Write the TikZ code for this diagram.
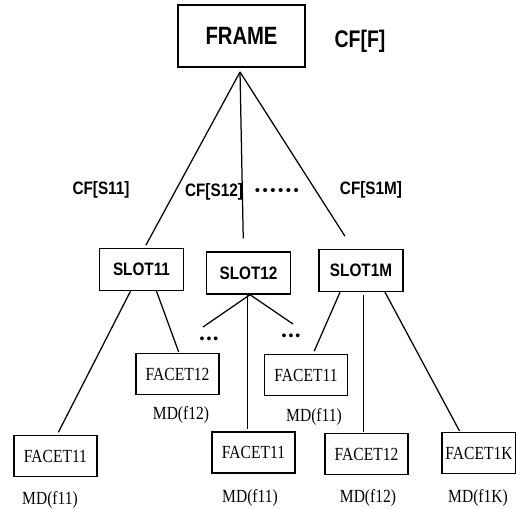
\documentclass[tikz,border=0pt]{standalone}
\usepackage{fontspec}
\setmainfont[FakeStretch=0.84]{Liberation Serif}
\newfontfamily\narrowsans[FakeStretch=0.85]{Liberation Sans}
\newfontfamily\framesans[FakeStretch=0.81]{Liberation Sans}
\newfontfamily\dotfont{Liberation Sans}
\usetikzlibrary{calc}
\tikzset{
  framebox/.style={draw, line width=1.6pt, inner sep=0pt, minimum width=127pt, minimum height=62pt,
    font=\framesans\bfseries\fontsize{25}{27}\selectfont},
  slotbox/.style={draw, line width=1.4pt, inner sep=0pt, minimum width=84pt, minimum height=42pt,
    font=\narrowsans\bfseries\fontsize{18}{20}\selectfont},
  facetbox/.style={draw, line width=1.2pt, inner sep=0pt, minimum width=83pt, minimum height=41pt,
    font=\fontsize{18.5}{20}\selectfont},
  cflabel/.style={inner sep=0pt, font=\narrowsans\bfseries\fontsize{18}{20}\selectfont},
  mdlabel/.style={inner sep=0pt, font=\fontsize{18.5}{20}\selectfont},
  dotrow/.style={inner sep=0pt, font=\dotfont\fontsize{15}{17}\selectfont},
  link/.style={line width=1.25pt}
}
\begin{document}
\begin{tikzpicture}[x=1pt, y=-1pt]
\useasboundingbox (0,0) rectangle (516,508);
% Frame
\node[framebox] (frame) at (241.5,36) {FRAME};
\node[cflabel, font=\framesans\bfseries\fontsize{24}{26}\selectfont] (cff) at (360,41) {CF[F]};
\coordinate (fapex) at (240,72);
% Slots
\node[slotbox] (s11) at (141.5,269.5) {SLOT11};
\node[slotbox] (s12) at (248.5,273) {SLOT12};
\node[slotbox] (s1m) at (361,270.5) {SLOT1M};
\node[cflabel] (cfs11) at (101,190) {CF[S11]};
\node[cflabel] (cfs12) at (214,192) {CF[S12]};
\node[dotrow] (sdots) at (277,192) {•\kern2.5pt•\kern2.5pt•\kern2.5pt•\kern2.5pt•\kern2.5pt•};
\node[cflabel] (cfs1m) at (371,190) {CF[S1M]};
% Frame to slots
\draw[link, shorten >=3pt] (fapex) -- ($(s11.north)+(3,0)$);
\draw[link, shorten >=13pt] (fapex) -- ($(s12.north)+(-5,0)$);
\draw[link, shorten >=15pt] (fapex) -- ($(s1m.north)+(-8,0)$);
% Facets
\node[facetbox] (f11a) at (55.5,456) {FACET11};
\node[mdlabel] (md11a) at (50,500) {MD(f11)};
\node[facetbox] (f12a) at (177.5,374) {FACET12};
\node[mdlabel] (md12a) at (181,415) {MD(f12)};
\node[facetbox] (f11b) at (306,375) {FACET11};
\node[mdlabel] (md11b) at (314,417) {MD(f11)};
\node[facetbox] (f11c) at (253.5,452.5) {FACET11};
\node[mdlabel] (md11c) at (250,498) {MD(f11)};
\node[facetbox] (f12b) at (366.5,454) {FACET12};
\node[mdlabel] (md12b) at (368,498) {MD(f12)};
\node[facetbox, minimum width=74pt] (f1k) at (479,453) {FACET1K};
\node[mdlabel] (md1k) at (478,498) {MD(f1K)};
% Slot11 to facets
\draw[link, shorten >=3pt] ($(s11.south)+(-11,0)$) -- ($(f11a.north)+(1.5,0)$);
\draw[link, shorten >=1pt] ($(s11.south)+(15,0)$) -- ($(f12a.north)+(1.5,0)$);
% Slot12 to facets
\coordinate (s12foot) at ($(s12.south)+(1.5,0)$);
\coordinate (d12l) at (203,327);
\coordinate (d12r) at (293,324);
\node[dotrow, font=\dotfont\fontsize{14}{16}\selectfont] (dotsl) at (209,340) {•\kern2pt•\kern2pt•};
\node[dotrow, font=\dotfont\fontsize{14}{16}\selectfont] (dotsr) at (291,337) {•\kern2pt•\kern2pt•};
\draw[link] (s12foot) -- (d12l);
\draw[link] (s12foot) -- (d12r);
\draw[link, shorten >=2pt] ($(s12.south)+(-1,0)$) -- ($(f11c.north)+(-6,0)$);
% Slot1M to facets
\draw[link, shorten >=3pt] ($(s1m.south)+(-21,0)$) -- ($(f11b.north)+(7,0)$);
\draw[link, shorten <=3pt, shorten >=1pt] ($(s1m.south)+(2.5,0)$) -- ($(f12b.north)+(-3,0)$);
\draw[link, shorten >=1pt] ($(s1m.south)+(24,0)$) -- ($(f1k.north)+(-19,0)$);
\end{tikzpicture}
\end{document}
